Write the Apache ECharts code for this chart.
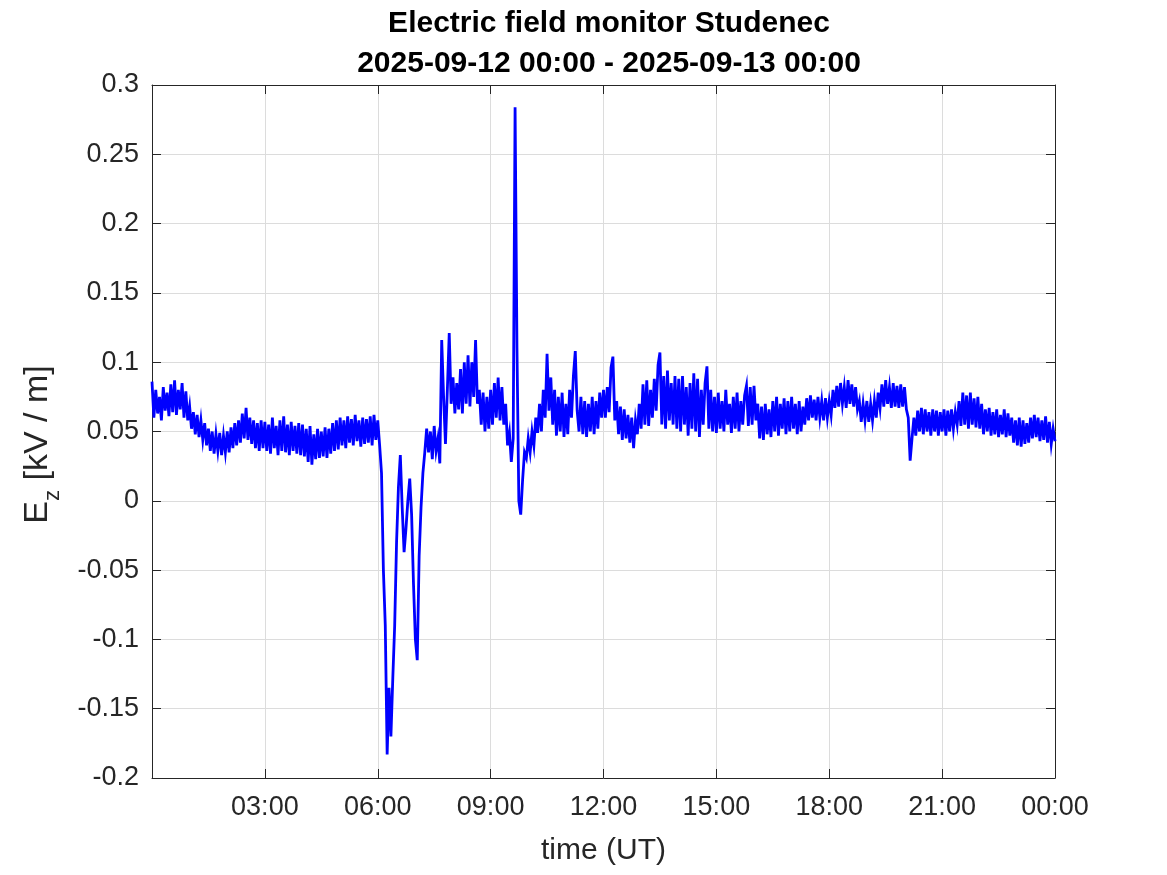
<!DOCTYPE html>
<html><head><meta charset="utf-8">
<script src="https://cdn.jsdelivr.net/npm/echarts@6/dist/echarts.min.js"></script>
<style>html,body{margin:0;padding:0;background:#fff}#c{width:1167px;height:875px}</style>
</head><body><div id="c"></div>
<script>
const titleLines = ['Electric field monitor Studenec', '2025-09-12 00:00 - 2025-09-13 00:00'];
const xTickHours = [0, 3, 6, 9, 12, 15, 18, 21, 24];
const xTickLabels = ['', '03:00', '06:00', '09:00', '12:00', '15:00', '18:00', '21:00', '00:00'];
const xAxisTitle = 'time (UT)';
const yMin = -0.2, yMax = 0.3, yStep = 0.05;
const sampleMinutes = 3;
// Ez [kV/m], one value every 3 minutes from 00:00 to 24:00 (20 per hour)
const ez = [
  0.086, 0.060, 0.080, 0.063, 0.075, 0.058, 0.082, 0.065, 0.078, 0.061, 0.084, 0.064, 0.087, 0.062, 0.080, 0.066, 0.085, 0.060, 0.079, 0.058,
  0.068, 0.052, 0.064, 0.048, 0.062, 0.046, 0.058, 0.044, 0.056, 0.040, 0.052, 0.036, 0.050, 0.034, 0.048, 0.036, 0.049, 0.033, 0.047, 0.035,
  0.050, 0.035, 0.053, 0.038, 0.056, 0.040, 0.058, 0.042, 0.063, 0.045, 0.067, 0.044, 0.060, 0.041, 0.058, 0.038, 0.056, 0.036, 0.058, 0.038,
  0.057, 0.036, 0.055, 0.034, 0.060, 0.038, 0.054, 0.033, 0.058, 0.036, 0.061, 0.035, 0.055, 0.033, 0.057, 0.036, 0.054, 0.034, 0.056, 0.033,
  0.055, 0.032, 0.052, 0.028, 0.054, 0.026, 0.048, 0.030, 0.052, 0.031, 0.050, 0.032, 0.053, 0.031, 0.052, 0.034, 0.056, 0.036, 0.058, 0.037,
  0.060, 0.040, 0.058, 0.038, 0.061, 0.042, 0.059, 0.040, 0.062, 0.043, 0.058, 0.039, 0.060, 0.041, 0.059, 0.042, 0.061, 0.040, 0.062, 0.044,
  0.058, 0.040, 0.020, -0.050, -0.090, -0.183, -0.135, -0.170, -0.128, -0.090, -0.030, 0.010, 0.033, -0.005, -0.037, -0.020, 0.000, 0.016, -0.010, -0.060,
  -0.100, -0.115, -0.040, -0.005, 0.020, 0.035, 0.052, 0.035, 0.050, 0.030, 0.054, 0.036, 0.045, 0.027, 0.116, 0.075, 0.041, 0.080, 0.121, 0.070,
  0.089, 0.063, 0.085, 0.066, 0.095, 0.063, 0.100, 0.070, 0.105, 0.068, 0.100, 0.075, 0.116, 0.070, 0.080, 0.055, 0.078, 0.050, 0.075, 0.052,
  0.080, 0.055, 0.085, 0.060, 0.089, 0.058, 0.082, 0.055, 0.070, 0.040, 0.049, 0.028, 0.045, 0.284, 0.110, 0.000, -0.010, 0.015, 0.035, 0.031,
  0.045, 0.035, 0.050, 0.040, 0.060, 0.049, 0.070, 0.050, 0.080, 0.060, 0.106, 0.065, 0.089, 0.055, 0.080, 0.047, 0.075, 0.050, 0.078, 0.046,
  0.070, 0.048, 0.080, 0.060, 0.090, 0.108, 0.065, 0.050, 0.075, 0.048, 0.072, 0.046, 0.070, 0.050, 0.075, 0.048, 0.072, 0.052, 0.078, 0.060,
  0.080, 0.060, 0.082, 0.064, 0.096, 0.104, 0.058, 0.072, 0.048, 0.068, 0.044, 0.066, 0.045, 0.062, 0.042, 0.060, 0.038, 0.058, 0.048, 0.070,
  0.052, 0.084, 0.055, 0.087, 0.054, 0.080, 0.060, 0.088, 0.065, 0.098, 0.107, 0.055, 0.090, 0.052, 0.094, 0.058, 0.085, 0.055, 0.090, 0.052,
  0.088, 0.050, 0.090, 0.055, 0.082, 0.047, 0.085, 0.052, 0.092, 0.050, 0.088, 0.046, 0.080, 0.055, 0.085, 0.097, 0.052, 0.080, 0.050, 0.075,
  0.049, 0.078, 0.052, 0.072, 0.050, 0.080, 0.055, 0.070, 0.049, 0.075, 0.052, 0.078, 0.050, 0.072, 0.055, 0.076, 0.083, 0.054, 0.082, 0.055,
  0.083, 0.058, 0.070, 0.045, 0.068, 0.044, 0.070, 0.048, 0.066, 0.046, 0.072, 0.050, 0.075, 0.047, 0.070, 0.052, 0.074, 0.048, 0.072, 0.050,
  0.075, 0.052, 0.070, 0.048, 0.072, 0.050, 0.068, 0.055, 0.074, 0.058, 0.076, 0.060, 0.073, 0.058, 0.075, 0.060, 0.072, 0.058, 0.074, 0.060,
  0.072, 0.062, 0.080, 0.067, 0.083, 0.068, 0.085, 0.070, 0.082, 0.067, 0.087, 0.070, 0.084, 0.068, 0.082, 0.066, 0.072, 0.057, 0.070, 0.058,
  0.072, 0.057, 0.070, 0.058, 0.072, 0.060, 0.078, 0.067, 0.084, 0.068, 0.087, 0.070, 0.082, 0.067, 0.085, 0.068, 0.083, 0.067, 0.084, 0.068,
  0.082, 0.066, 0.060, 0.029, 0.045, 0.060, 0.047, 0.065, 0.050, 0.067, 0.048, 0.066, 0.050, 0.064, 0.047, 0.066, 0.050, 0.065, 0.047, 0.064,
  0.050, 0.066, 0.047, 0.065, 0.050, 0.066, 0.052, 0.064, 0.055, 0.072, 0.054, 0.078, 0.055, 0.076, 0.052, 0.078, 0.055, 0.074, 0.053, 0.075,
  0.052, 0.070, 0.048, 0.066, 0.050, 0.067, 0.047, 0.064, 0.048, 0.066, 0.046, 0.062, 0.048, 0.066, 0.046, 0.063, 0.047, 0.060, 0.042, 0.058,
  0.040, 0.060, 0.039, 0.058, 0.041, 0.056, 0.042, 0.060, 0.045, 0.062, 0.046, 0.060, 0.043, 0.058, 0.044, 0.061, 0.042, 0.057, 0.041, 0.052,
  0.043
];

const FONT = '"Liberation Sans", Arial, Helvetica, sans-serif';
const INK = '#262626';
const seriesData = ez.map((v, i) => [i * sampleMinutes / 60, v]);

function xLabel(v) {
  const k = xTickHours.indexOf(Math.round(v));
  return k >= 0 ? xTickLabels[k] : '';
}

const chart = echarts.init(document.getElementById('c'), null, {renderer: 'canvas'});
const common = {
  axisLine: {show: true, onZero: false, lineStyle: {color: INK, width: 1}},
  axisTick: {show: true, inside: true, length: 9, lineStyle: {color: INK, width: 1}}
};
chart.setOption({
  animation: false,
  backgroundColor: '#ffffff',
  title: {
    text: titleLines.join('\n'),
    left: 604, top: -1, textAlign: 'center',
    textStyle: {fontFamily: FONT, fontSize: 30, fontWeight: 'bold', color: '#000', lineHeight: 40}
  },
  grid: {left: 152, right: 112, top: 85, bottom: 97, containLabel: false},
  xAxis: [{
    type: 'value', min: 0, max: 24, interval: 3, position: 'bottom',
    name: xAxisTitle, nameLocation: 'middle', nameGap: 58,
    nameTextStyle: {fontFamily: FONT, fontSize: 30, color: INK},
    ...common,
    axisLabel: {show: true, margin: 16, fontFamily: FONT, fontSize: 27, color: INK, formatter: xLabel, showMinLabel: true, showMaxLabel: true},
    splitLine: {show: true, lineStyle: {color: '#dcdcdc', width: 1}}
  }, {
    type: 'value', min: 0, max: 24, interval: 3, position: 'top',
    ...common, axisLabel: {show: false}, splitLine: {show: false}
  }],
  yAxis: [{
    type: 'value', min: yMin, max: yMax, interval: yStep, position: 'left',
    name: '{e|E}{s|z}{e| [kV / m]}', nameLocation: 'middle', nameGap: 88, nameRotate: 90,
    nameTextStyle: {
      fontFamily: FONT, fontSize: 34, color: INK, padding: [0, 26, 0, 0],
      rich: {
        e: {fontFamily: FONT, fontSize: 34, color: INK, lineHeight: 37, padding: [0, 0, 9, 0], verticalAlign: 'bottom'},
        s: {fontFamily: FONT, fontSize: 22, color: INK, lineHeight: 22, verticalAlign: 'bottom'}
      }
    },
    ...common,
    axisLabel: {show: true, margin: 13, fontFamily: FONT, fontSize: 27, color: INK,
      formatter: v => String(Math.round(v * 100) / 100)},
    splitLine: {show: true, lineStyle: {color: '#dcdcdc', width: 1}}
  }, {
    type: 'value', min: yMin, max: yMax, interval: yStep, position: 'right',
    ...common, axisLabel: {show: false}, splitLine: {show: false}
  }],
  series: [{
    type: 'line', data: seriesData, xAxisIndex: 0, yAxisIndex: 0,
    showSymbol: false, symbol: 'none', sampling: false,
    lineStyle: {color: '#0000ff', width: 2.8, join: 'miter'},
    z: 3
  }]
});
</script></body></html>
